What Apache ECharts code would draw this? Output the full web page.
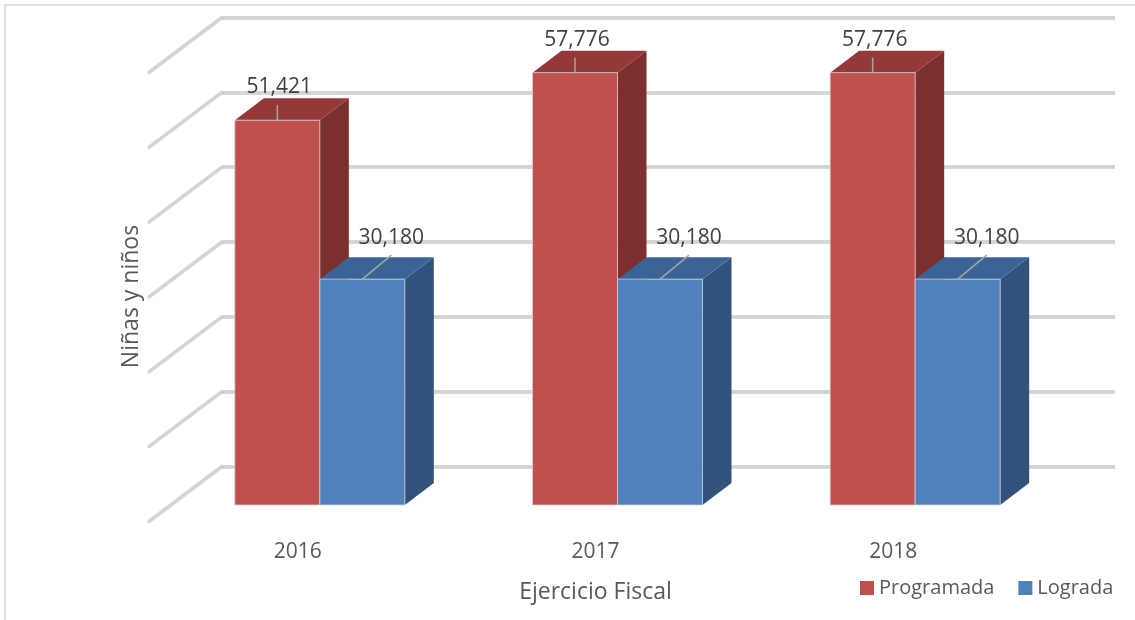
<!DOCTYPE html>
<html>
<head>
<meta charset="utf-8">
<script src="https://cdn.jsdelivr.net/npm/echarts@6/dist/echarts.min.js"></script>
<style>
  html, body { margin: 0; padding: 0; background: #fff; }
  #main { width: 1135px; height: 620px; }
</style>
</head>
<body>
<div id="main"></div>
<script>
// datos del gráfico
var categorias = ['2016', '2017', '2018'];
var programada = [51421, 57776, 57776];
var lograda = [30180, 30180, 30180];
var ticksY = [0, 10000, 20000, 30000, 40000, 50000, 60000];

var FONT = '"Open Sans", "Noto Sans", sans-serif';
var FRENTE = [-51, 39];   // desplazamiento de la cara frontal respecto a la pared
var FONDO = [29, -22];    // profundidad de la barra
var PISO = [-73, 55];     // profundidad del piso
var ANCHO = 85;

var colores = {
    Programada: { frente: '#C0504D', arriba: '#943937', lado: '#7B2F2E' },
    Lograda: { frente: '#4F81BD', arriba: '#3A6496', lado: '#31527B' }
};

function fmt(v) {
    return v.toLocaleString('en-US');
}

// barra 3d
function barra3d(nombre, izquierda) {
    var c = colores[nombre];
    return function (params, api) {
        var cat = api.value(0);
        var val = api.value(1);
        var arriba = api.coord([cat, val]);
        var base = api.coord([cat, 0]);
        var x0 = arriba[0] + FRENTE[0] + (izquierda ? -ANCHO : 0);
        var yT = arriba[1] + FRENTE[1];
        var yB = base[1] + FRENTE[1];
        var dx = FONDO[0], dy = FONDO[1];
        var cx = x0 + ANCHO / 2;
        var lx = izquierda ? cx + 2 : cx + 29;
        var ly = izquierda ? yT - 33 : yT - 41;
        return {
            type: 'group',
            children: [
                {
                    type: 'polygon',
                    shape: { points: [[x0 + ANCHO, yT], [x0 + ANCHO + dx, yT + dy], [x0 + ANCHO + dx, yB + dy], [x0 + ANCHO, yB]] },
                    style: { fill: c.lado }
                },
                {
                    type: 'polygon',
                    shape: { points: [[x0, yT], [x0 + dx, yT + dy], [x0 + ANCHO + dx, yT + dy], [x0 + ANCHO, yT]] },
                    style: { fill: c.arriba }
                },
                {
                    type: 'rect',
                    shape: { x: x0, y: yT, width: ANCHO, height: yB - yT },
                    style: { fill: c.frente, stroke: 'rgba(210,210,210,0.8)', lineWidth: 1 }
                },
                {
                    type: 'line',
                    shape: izquierda ? { x1: cx, y1: yT, x2: cx, y2: yT - 15 } : { x1: cx, y1: yT, x2: cx + 29, y2: yT - 24 },
                    style: { stroke: '#a6a6a6', lineWidth: 1.5 }
                },
                {
                    type: 'text',
                    x: lx, y: ly,
                    style: {
                        text: fmt(val), fill: '#404040', font: '21px ' + FONT,
                        align: 'center', verticalAlign: 'middle'
                    }
                }
            ]
        };
    };
}

// lineas diagonales de la pared izquierda
function diagonales(params, api) {
    var y = api.coord([0, api.value(1)])[1];
    var x = params.coordSys.x;
    return {
        type: 'line',
        shape: { x1: x, y1: y, x2: x + PISO[0], y2: y + PISO[1] },
        style: { stroke: '#d4d4d4', lineWidth: 3, lineCap: 'round', shadowColor: 'rgba(0,0,0,0.15)', shadowOffsetY: 1 }
    };
}

var myChart = echarts.init(document.getElementById('main'));
window.onresize = myChart.resize;

var option = {
    animation: false,
    textStyle: { fontFamily: FONT },
    graphic: [{
        type: 'rect',
        shape: { x: 5, y: 5, width: 1140, height: 630 },
        style: { fill: 'none', stroke: '#d9d9d9', lineWidth: 1.5 },
        z: -10
    }],
    legend: {
        left: 855, top: 573,
        itemWidth: 14, itemHeight: 14, itemGap: 24,
        icon: 'rect',
        textStyle: { fontSize: 20, color: '#595959', fontFamily: FONT },
        data: ['Programada', 'Lograda']
    },
    grid: [
        { left: 222, top: 17, width: 893, height: 449 },
        { left: 149, top: 72, width: 893, height: 449 }
    ],
    xAxis: [
        {
            type: 'category', gridIndex: 0, data: categorias,
            axisLine: { show: false }, axisTick: { show: false }, axisLabel: { show: false }
        },
        {
            type: 'category', gridIndex: 1, data: categorias,
            axisLine: { show: false }, axisTick: { show: false },
            axisLabel: { fontSize: 21, color: '#595959', margin: 21, fontFamily: FONT },
            name: 'Ejercicio Fiscal', nameLocation: 'middle', nameGap: 60,
            nameTextStyle: { fontSize: 23, color: '#595959', fontFamily: FONT }
        }
    ],
    yAxis: [
        {
            type: 'value', gridIndex: 0, min: 0, max: 60000, interval: 10000,
            axisLine: { show: false }, axisTick: { show: false }, axisLabel: { show: false },
            splitLine: {
                show: true,
                lineStyle: { color: '#d4d4d4', width: 3, shadowColor: 'rgba(0,0,0,0.15)', shadowOffsetY: 1 }
            }
        },
        {
            type: 'value', gridIndex: 1, min: 0, max: 60000, interval: 10000,
            axisLine: { show: false }, axisTick: { show: false }, axisLabel: { show: false },
            splitLine: { show: false },
            name: 'Niñas y niños', nameLocation: 'middle', nameGap: 6,
            nameTextStyle: { fontSize: 23, color: '#595959', fontFamily: FONT }
        }
    ],
    series: [
        {
            type: 'custom', name: 'diagonales', xAxisIndex: 0, yAxisIndex: 0,
            renderItem: diagonales, z: 1, silent: true,
            data: ticksY.map(function (v) { return [0, v]; })
        },
        {
            type: 'custom', name: 'Programada', xAxisIndex: 0, yAxisIndex: 0,
            itemStyle: { color: '#C0504D' }, z: 3,
            renderItem: barra3d('Programada', true),
            data: programada.map(function (v, i) { return [i, v]; })
        },
        {
            type: 'custom', name: 'Lograda', xAxisIndex: 0, yAxisIndex: 0,
            itemStyle: { color: '#4F81BD' }, z: 3,
            renderItem: barra3d('Lograda', false),
            data: lograda.map(function (v, i) { return [i, v]; })
        }
    ]
};

myChart.setOption(option);
</script>
</body>
</html>
